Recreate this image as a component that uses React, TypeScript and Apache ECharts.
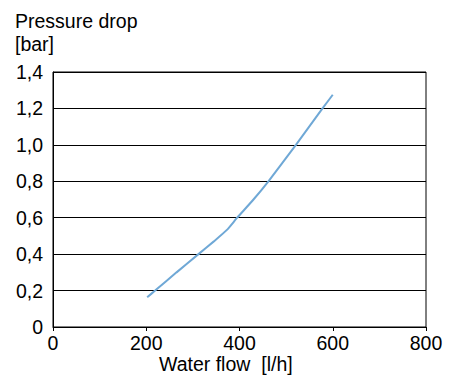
import React, { useEffect, useRef } from "react";
import * as echarts from "echarts";

const flow = [202, 219, 265, 312, 345, 373, 395, 430, 462, 521, 578, 600];
const pressure = [0.163, 0.2, 0.3, 0.4, 0.47, 0.533, 0.6, 0.7, 0.8, 1.0, 1.2, 1.275];
const yTitle = ["Pressure drop", "[bar]"];
const xTitle = "Water flow  [l/h]";

const FONT = "'Liberation Sans', Arial, sans-serif";
const FS = 19.5;

export default function App() {
  const ref = useRef<HTMLDivElement>(null);
  useEffect(() => {
    if (!ref.current) return;
    const chart = echarts.init(ref.current, null, { renderer: "svg" });
    chart.setOption({
      animation: false,
      backgroundColor: "#fff",
      grid: {
        left: 53,
        right: 24,
        top: 72,
        bottom: 49,
        show: true,
        borderColor: "#000",
        borderWidth: 1,
        backgroundColor: "transparent",
      },
      xAxis: {
        type: "value",
        min: 0,
        max: 800,
        interval: 200,
        axisLine: { show: true, lineStyle: { color: "#000", width: 1 } },
        axisTick: { show: true, length: 4, inside: false, lineStyle: { color: "#000" } },
        splitLine: { show: false },
        axisLabel: { color: "#000", fontSize: FS, fontFamily: FONT, margin: 6 },
      },
      yAxis: {
        type: "value",
        min: 0,
        max: 1.4,
        interval: 0.2,
        axisLine: { show: true, lineStyle: { color: "#000", width: 1 } },
        axisTick: { show: false },
        splitLine: { show: true, lineStyle: { color: "#000", width: 1 } },
        axisLabel: {
          color: "#000",
          fontSize: FS,
          fontFamily: FONT,
          margin: 10,
          formatter: (v: number) => (v === 0 ? "0" : v.toFixed(1).replace(".", ",")),
        },
      },
      graphic: [
        {
          type: "text",
          x: 15,
          y: 21,
          style: { text: yTitle[0], fontSize: FS, fontFamily: FONT, fill: "#000", textVerticalAlign: "middle" },
        },
        {
          type: "text",
          x: 15,
          y: 44,
          style: { text: yTitle[1], fontSize: FS, fontFamily: FONT, fill: "#000", textVerticalAlign: "middle" },
        },
        {
          type: "text",
          x: 159,
          y: 364,
          style: { text: xTitle, fontSize: FS, fontFamily: FONT, fill: "#000", textVerticalAlign: "middle" },
        },
      ],
      series: [
        {
          type: "line",
          data: flow.map((f, i) => [f, pressure[i]]),
          showSymbol: false,
          smooth: 0.15,
          lineStyle: { color: "#6fa8d6", width: 2 },
        },
      ],
    });
    return () => chart.dispose();
  }, []);
  return <div ref={ref} style={{ width: 450, height: 376, position: "absolute", left: 0, top: 0 }} />;
}
